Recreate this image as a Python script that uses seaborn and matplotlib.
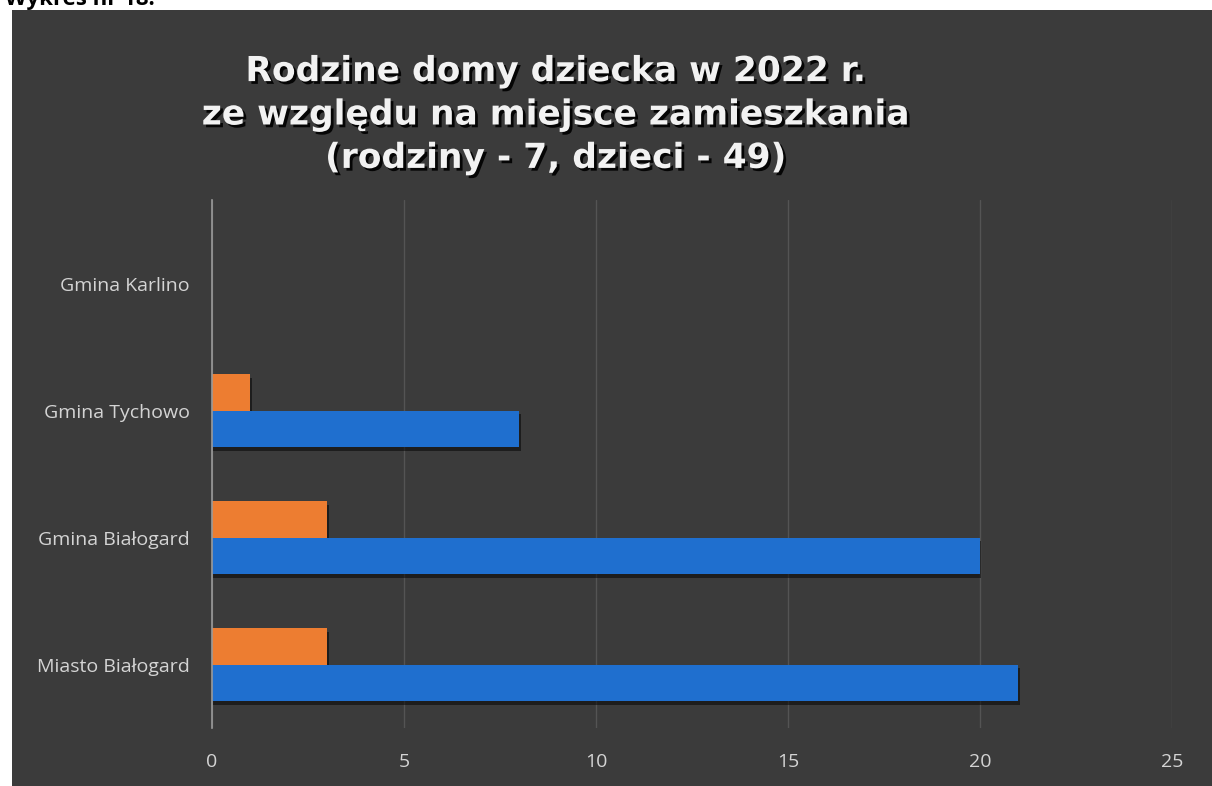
import pandas as pd
import matplotlib.pyplot as plt
import matplotlib.patheffects as pe
from matplotlib.patches import Rectangle
import seaborn as sns

# dane z wykresu
gminy = ["Gmina Karlino", "Gmina Tychowo", "Gmina Białogard", "Miasto Białogard"]
rodziny = [0, 1, 3, 3]
dzieci = [0, 8, 20, 21]
serie = ["rodziny", "dzieci"]
kolory = ["#ED7D31", "#1F6FCF"]
xticks = [0, 5, 10, 15, 20, 25]

df = pd.DataFrame({
    "gmina": gminy * 2,
    "seria": ["rodziny"] * len(gminy) + ["dzieci"] * len(gminy),
    "wartosc": rodziny + dzieci,
})

sns.set_theme(style="dark")
plt.rcParams["font.family"] = ["Open Sans", "DejaVu Sans"]

bg = "#3b3b3b"
fig = plt.figure(figsize=(12.12, 7.86), dpi=100, facecolor="white")
# ciemne tlo wykresu (skan ma bialy margines u gory i z lewej)
fig.patches.append(Rectangle((12 / 1212, 0), 1, 1 - 10 / 786, transform=fig.transFigure,
                             facecolor=bg, edgecolor="none", zorder=-10))
fig.text(0.004, 1.0, "Wykres nr 18.", fontsize=16, fontweight="bold", color="black",
         va="center", ha="left")

ax = fig.add_axes([212 / 1212, 1 - 728 / 786, (1172 - 212) / 1212, (728 - 200) / 786])
ax.set_facecolor(bg)

sns.barplot(data=df, y="gmina", x="wartosc", hue="seria", order=gminy, hue_order=serie,
            palette=kolory, orient="h", width=0.575, ax=ax, legend=False,
            saturation=1, edgecolor="none")

for p in ax.patches:
    p.set_path_effects([pe.SimplePatchShadow(offset=(1, -2.5), shadow_rgbFace="black", alpha=0.5),
                        pe.Normal()])

ax.set_xlim(0, 25)
ax.set_ylim(3.5, -0.66)
ax.set_xticks(xticks)
ax.set_xlabel("")
ax.set_ylabel("")
ax.xaxis.grid(True, color="#545454", linewidth=1)
ax.yaxis.grid(False)
ax.set_axisbelow(True)
for s in ["top", "right", "bottom"]:
    ax.spines[s].set_visible(False)
ax.spines["left"].set_color("#9a9a9a")
ax.spines["left"].set_linewidth(1.2)
ax.tick_params(axis="x", length=0, pad=18, labelsize=14, labelcolor="#d4d4d4")
ax.tick_params(axis="y", length=0, pad=16, labelsize=14, labelcolor="#d4d4d4")

fig.text(556 / 1212, 1 - 115 / 786,
         "Rodzine domy dziecka w 2022 r.\nze względu na miejsce zamieszkania\n(rodziny - 7, dzieci - 49)",
         ha="center", va="center", fontsize=24.8, fontweight="bold", color="#f2f2f2",
         family=["DejaVu Sans"], linespacing=1.4,
         path_effects=[pe.withSimplePatchShadow(offset=(2, -2), shadow_rgbFace="black", alpha=0.9)])

fig.savefig("out.png", dpi=100, facecolor=fig.get_facecolor())
